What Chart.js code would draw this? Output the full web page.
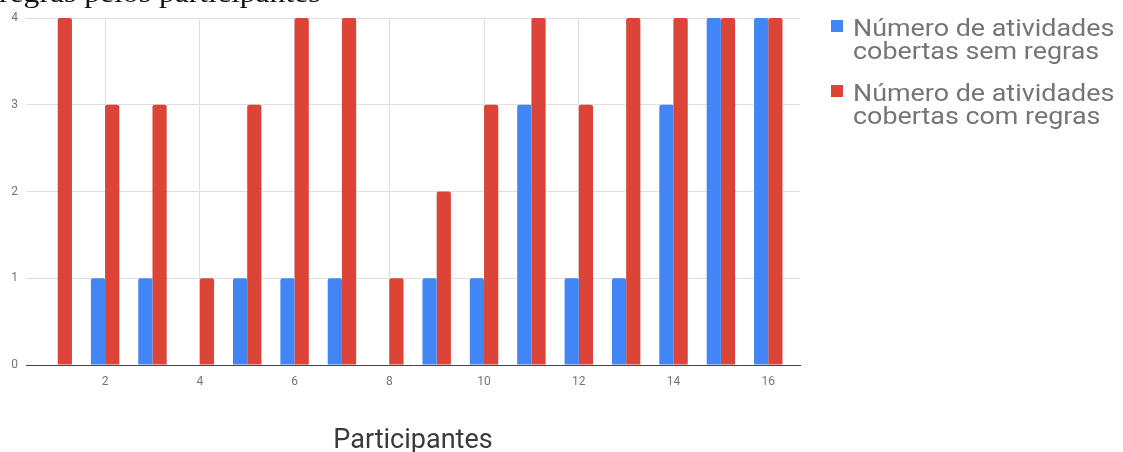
<!DOCTYPE html>
<html lang="pt">
<head>
<meta charset="utf-8">
<script src="https://cdn.jsdelivr.net/npm/chart.js@4.4.1/dist/chart.umd.min.js"></script>
<style>
  html, body { margin: 0; padding: 0; background: #fff; }
  #wrap { position: relative; width: 1123px; height: 452px; overflow: hidden; }
  #chart { position: absolute; left: 0; top: 0; }
  .heading {
    position: absolute; left: -1px; top: -21px; white-space: nowrap;
    font-family: "Liberation Serif", serif; font-size: 28px; line-height: 28px;
    color: #111; transform: scaleX(1.13); transform-origin: left top;
  }
  .legend-item { position: absolute; left: 831px; display: flex; align-items: flex-start; }
  .legend-item .swatch { width: 12px; height: 12px; margin-top: 3px; margin-right: 10px; flex: none; }
  .legend-item .label {
    font-family: Roboto, sans-serif; font-size: 24px; line-height: 23px; color: #757575;
    white-space: nowrap; transform: scaleX(1.12); transform-origin: left top;
  }
</style>
</head>
<body>
<div id="wrap">
  <canvas id="chart" width="1123" height="452"></canvas>
  <div class="heading">regras pelos participantes</div>
  <div id="legend"></div>
</div>
<script>
// Participants and the number of activities covered by each one
const categories = [1, 2, 3, 4, 5, 6, 7, 8, 9, 10, 11, 12, 13, 14, 15, 16];
const semRegras  = [0, 1, 1, 0, 1, 1, 1, 0, 1, 1, 3, 1, 1, 3, 4, 4];
const comRegras  = [4, 3, 3, 1, 3, 4, 4, 1, 2, 3, 4, 3, 4, 4, 4, 4];
const xTicks = [2, 4, 6, 8, 10, 12, 14, 16];
const yTicks = [0, 1, 2, 3, 4];
const seriesNames = [
  ["Número de atividades", "cobertas sem regras"],
  ["Número de atividades", "cobertas com regras"]
];
const seriesColors = ["#4285F4", "#DB4437"];

const toPoints = (vals) => categories.map((c, i) => ({ x: c, y: vals[i] }));

const tickFont = { family: "Roboto", size: 12 };

new Chart(document.getElementById("chart"), {
  type: "bar",
  data: {
    datasets: [
      { label: seriesNames[0].join(" "), data: toPoints(semRegras), backgroundColor: seriesColors[0] },
      { label: seriesNames[1].join(" "), data: toPoints(comRegras), backgroundColor: seriesColors[1] }
    ]
  },
  options: {
    responsive: false,
    animation: false,
    layout: { padding: { top: 18, right: 323, left: 0, bottom: 0 } },
    datasets: {
      bar: { categoryPercentage: 0.6, barPercentage: 1.0, borderRadius: 2, borderSkipped: "bottom" }
    },
    plugins: { legend: { display: false }, tooltip: { enabled: false } },
    scales: {
      x: {
        type: "linear",
        min: 0.33,
        max: 16.67,
        offset: false,
        afterBuildTicks: (scale) => { scale.ticks = xTicks.map(v => ({ value: v })); },
        afterFit: (scale) => { scale.height = 87; },
        grid: { color: "#e0e0e0", drawTicks: false, offset: false },
        border: { color: "#444", width: 1 },
        ticks: { color: "#757575", font: tickFont, padding: 10, maxRotation: 0,
                 callback: (v) => String(v) },
        title: { display: true, text: "Participantes", color: "#3a3a3a",
                 font: { family: "Roboto", size: 27 }, padding: { top: 0, bottom: -5 } }
      },
      y: {
        min: 0,
        max: 4,
        afterBuildTicks: (scale) => { scale.ticks = yTicks.map(v => ({ value: v })); },
        afterFit: (scale) => { scale.width = 26; },
        grid: { color: "#e0e0e0", drawTicks: false },
        border: { display: false },
        ticks: { color: "#757575", font: tickFont, padding: 8 }
      }
    }
  }
});

// Legend with two-line labels
const legend = document.getElementById("legend");
const legendTops = [17, 82];
seriesNames.forEach((lines, i) => {
  const item = document.createElement("div");
  item.className = "legend-item";
  item.style.top = legendTops[i] + "px";
  const sw = document.createElement("div");
  sw.className = "swatch";
  sw.style.background = seriesColors[i];
  const lab = document.createElement("div");
  lab.className = "label";
  lab.innerHTML = lines.join("<br>");
  item.appendChild(sw);
  item.appendChild(lab);
  legend.appendChild(item);
});
</script>
</body>
</html>
